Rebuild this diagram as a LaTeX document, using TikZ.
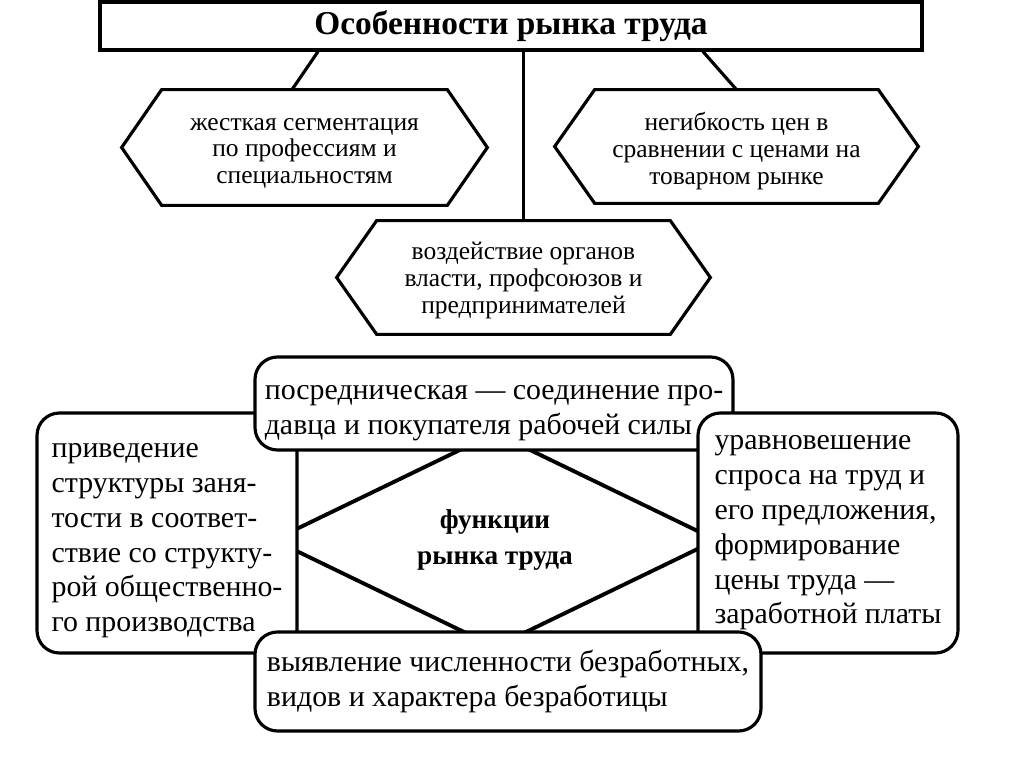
\documentclass[tikz,border=0pt]{standalone}
\usepackage{fontspec}
\setmainfont{Liberation Serif}
\usetikzlibrary{shapes.geometric}

\tikzset{
  hexbox/.style={inner sep=0pt, align=center, font=\fontsize{14.5}{15.2}\selectfont},
  hexline/.style={line width=1.8pt, line join=miter},
  funcbox/.style={draw, fill=white, line width=1.8pt, rounded corners=0.45cm, align=left, inner sep=0pt, font=\fontsize{17}{19.8}\selectfont},
  conn/.style={line width=1.8pt},
}

\begin{document}
\begin{tikzpicture}
\def\hexagonpath#1{(#1.west) -- ([xshift=0.8cm]#1.north west) -- ([xshift=-0.8cm]#1.north east) -- (#1.east) -- ([xshift=-0.8cm]#1.south east) -- ([xshift=0.8cm]#1.south west) -- cycle}
\def\topgap#1{\rule{0pt}{#1}}

\useasboundingbox (0,0) rectangle (20.48,-15.34);

\node[draw, line width=1.8pt, minimum width=16.44cm, minimum height=0.96cm, inner sep=0pt, font=\bfseries\fontsize{19}{22}\selectfont] (title) at (10.22,-0.52) {Особенности рынка труда};


\node[hexbox, minimum width=7.3cm, minimum height=2.3cm] (seg) at (6.09,-2.95) {\topgap{13.5pt}жесткая сегментация\\по профессиям и\\специальностям};
\draw[hexline] \hexagonpath{seg};

\node[hexbox, minimum width=7.26cm, minimum height=2.26cm] (rigid) at (14.73,-2.93) {\topgap{15.6pt}негибкость цен в\\сравнении с ценами на\\товарном рынке};
\draw[hexline] \hexagonpath{rigid};

\node[hexbox, minimum width=7.46cm, minimum height=2.26cm] (infl) at (10.47,-5.55) {\topgap{13.3pt}воздействие органов\\власти, профсоюзов и\\предпринимателей};
\draw[hexline] \hexagonpath{infl};

\draw[conn] ([xshift=-3.86cm]title.south) -- ([xshift=-0.25cm]seg.north);
\draw[conn] ([xshift=3.84cm]title.south) -- (rigid.north);
\draw[conn] (infl.north |- title.south) -- (infl.north);


% functions of the labour market
\node[diamond, draw, line width=2.2pt, minimum width=8.88cm, minimum height=4.28cm, inner sep=0pt, align=center, font=\bfseries\fontsize{15.5}{20}\selectfont] (funcs) at (9.9,-10.8) {функции\\рынка труда};

\node[funcbox, minimum width=5.2cm, minimum height=4.8cm] (struct) at (3.34,-10.66) {\topgap{16.9pt}приведение\\структуры заня-\\тости в соответ-\\ствие со структу-\\рой общественно-\\го производства};

\node[funcbox, minimum width=9.56cm, minimum height=1.86cm] (mediator) at (9.88,-8.07) {\topgap{19.2pt}посредническая — соединение про-\\давца и покупателя рабочей силы};

\node[funcbox, minimum width=5.2cm, minimum height=4.8cm] (balance) at (16.56,-10.66) {уравновешение\\спроса на труд и\\его предложения,\\формирование\\цены труда —\\заработной платы};

\node[funcbox, minimum width=10.12cm, minimum height=1.98cm] (unemp) at (10.16,-13.63) {выявление численности безработных,\\видов и характера безработицы};

\end{tikzpicture}
\end{document}
